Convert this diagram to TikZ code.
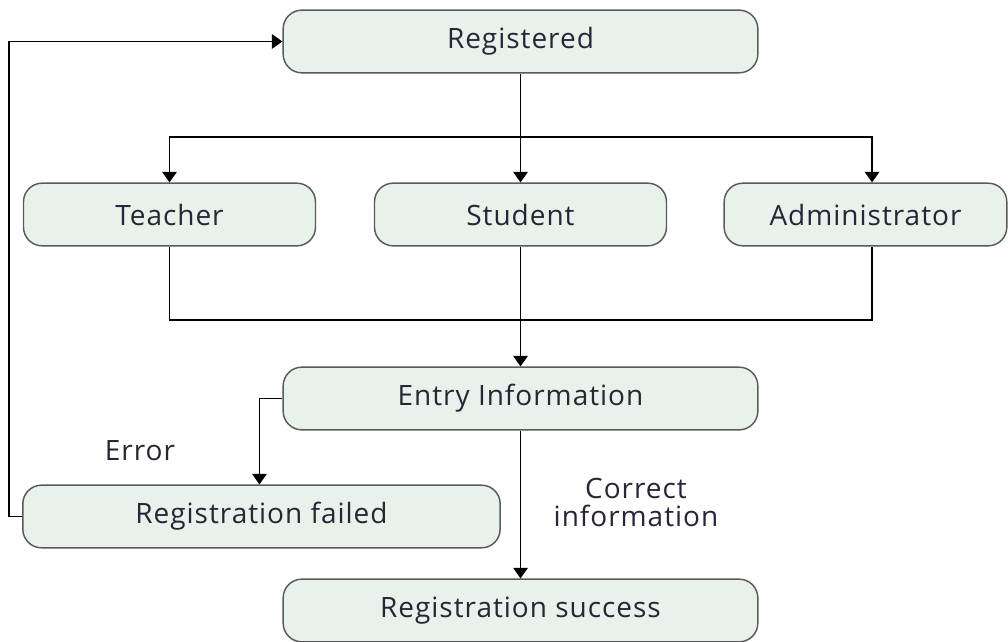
\documentclass[tikz,border=0pt]{standalone}
\usepackage{fontspec}
\setmainfont{Open Sans}[LetterSpace=3.5]
\usetikzlibrary{arrows.meta}

\definecolor{boxfill}{HTML}{E8F2EB}
\definecolor{boxline}{HTML}{5A5A5A}
\definecolor{txtcol}{HTML}{262636}

\tikzset{
  stepbox/.style={draw=boxline, line width=1.1pt, fill=boxfill, rounded corners=14pt,
    minimum height=47pt, inner sep=0pt, text=txtcol, font=\fontsize{21}{24}\selectfont},
  arr/.style={-{Triangle[length=8pt,width=11pt]}, line width=1.1pt},
  lbl/.style={text=txtcol, font=\fontsize{21}{21}\selectfont, align=center}
}

\begin{document}
\begin{tikzpicture}[x=0.75pt,y=0.75pt,yscale=-1,xscale=1]
\useasboundingbox (0,0) rectangle (1008,642);

%Shape: Rounded Rect [id:reg] 
\node [stepbox, minimum width=356pt] (reg) at (520.5,41.5) {Registered};
%Shape: Rounded Rect [id:teacher] 
\node [stepbox, minimum width=219pt] (teacher) at (169.5,214.5) {Teacher};
%Shape: Rounded Rect [id:student] 
\node [stepbox, minimum width=219pt] (student) at (520.5,214.5) {Student};
%Shape: Rounded Rect [id:admin] 
\node [stepbox, minimum width=212pt] (admin) at (865.5,214.5) {Administrator};
%Shape: Rounded Rect [id:entry] 
\node [stepbox, minimum width=356pt] (entry) at (520.5,398.5) {Entry Information};
%Shape: Rounded Rect [id:failed] 
\node [stepbox, minimum width=358pt] (failed) at (261.5,516.5) {Registration failed};
%Shape: Rounded Rect [id:success] 
\node [stepbox, minimum width=356pt] (success) at (520.5,610.5) {Registration success};

\coordinate (split) at (520,137);
\coordinate (join) at (520,320);

%Straight Lines [id:fork] 
\draw [arr] (reg.south) -- (student.north);
\draw [arr] (split) -| (teacher.north);
\draw [arr] (split) -| ([xshift=4.9pt]admin.north);
%Straight Lines [id:merge] 
\draw [line width=1.1pt] (teacher.south) |- (join) -| ([xshift=4.9pt]admin.south);
\draw [arr] (student.south) -- (entry.north);
%Straight Lines [id:error] 
\draw [arr] (entry.west) -- ++(-23,0) coordinate (errturn) -- (errturn |- failed.north);
%Straight Lines [id:back] 
\draw [arr] (failed.west) -- ++(-13,0) coordinate (backturn) |- (reg.west);
%Straight Lines [id:ok] 
\draw [arr] (entry.south) -- (success.north);

% Text Node
\node [lbl] (errlbl) at (140,451) {Error};
% Text Node
\node [lbl] (oklbl) at (636,502) {Correct\\information};

\end{tikzpicture}
\end{document}
